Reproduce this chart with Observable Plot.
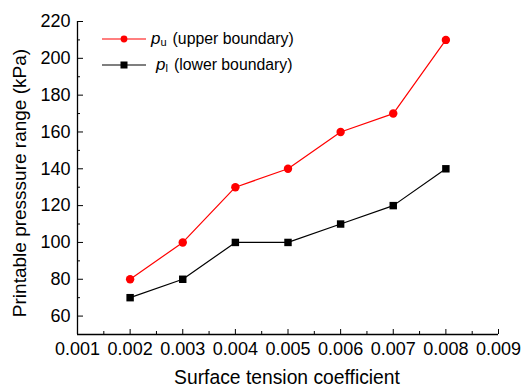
<!DOCTYPE html>
<html>
<head>
<meta charset="utf-8">
<script src="https://cdn.jsdelivr.net/npm/d3@7"></script>
<script src="https://cdn.jsdelivr.net/npm/@observablehq/plot@0.6"></script>
<style>
  html, body { margin: 0; padding: 0; background: #fff; }
  #wrap { position: relative; width: 522px; height: 386px; font-family: "Liberation Sans", Arial, sans-serif; }
  #legend { position: absolute; left: 0; top: 0; }
</style>
</head>
<body>
<div id="wrap"></div>
<script>
const coefficients = [0.002, 0.003, 0.004, 0.005, 0.006, 0.007, 0.008];
const upperValues = [80, 100, 130, 140, 160, 170, 210];
const lowerValues = [70, 80, 100, 100, 110, 120, 140];
const xTicks = [0.001, 0.002, 0.003, 0.004, 0.005, 0.006, 0.007, 0.008, 0.009];
const xMinorTicks = [0.0015, 0.0025, 0.0035, 0.0045, 0.0055, 0.0065, 0.0075, 0.0085];
const yTicks = [60, 80, 100, 120, 140, 160, 180, 200, 220];
const yMinorTicks = [70, 90, 110, 130, 150, 170, 190, 210];
const xLabel = "Surface tension coefficient";
const yLabel = "Printable presssure range (kPa)";

const upper = coefficients.map((x, i) => ({x, y: upperValues[i]}));
const lower = coefficients.map((x, i) => ({x, y: lowerValues[i]}));

const fmt = d => d3.format(".3f")(d);

const chart = Plot.plot({
  width: 522,
  height: 386,
  marginLeft: 77,
  marginRight: 24,
  marginTop: 21,
  marginBottom: 52,
  style: {fontFamily: "Liberation Sans, Arial, sans-serif", fontSize: "18px", color: "#000", background: "#fff"},
  x: {domain: [0.001, 0.009]},
  y: {domain: [50, 220]},
  marks: [
    Plot.axisX({ticks: xTicks, tickSize: 0, tickPadding: 8, tickFormat: fmt, fontSize: 18, label: null}),
    Plot.axisX({ticks: xTicks, tickSize: -5, tickFormat: () => "", label: null}),
    Plot.axisX({ticks: xMinorTicks, tickSize: -3, tickFormat: () => "", label: null}),
    Plot.axisY({ticks: yTicks, tickSize: 0, tickPadding: 7, fontSize: 18, label: null}),
    Plot.axisY({ticks: yTicks, tickSize: -6, tickFormat: () => "", label: null}),
    Plot.axisY({ticks: yMinorTicks, tickSize: -3, tickFormat: () => "", label: null}),
    Plot.ruleY([50], {stroke: "#000", strokeWidth: 1.3}),
    Plot.ruleX([0.001], {stroke: "#000", strokeWidth: 1.3}),
    Plot.line(upper, {x: "x", y: "y", stroke: "#ff0000", strokeWidth: 1.2}),
    Plot.dot(upper, {x: "x", y: "y", r: 4.2, fill: "#ff0000", stroke: "none"}),
    Plot.line(lower, {x: "x", y: "y", stroke: "#000", strokeWidth: 1.2}),
    Plot.dot(lower, {x: "x", y: "y", r: 4.2, symbol: "square", fill: "#000", stroke: "none"}),
    Plot.text([xLabel], {frameAnchor: "bottom", dx: -1, dy: 49, fontSize: 19.3, lineAnchor: "bottom", text: d => d}),
    Plot.text([yLabel], {frameAnchor: "left", textAnchor: "middle", dx: -58, dy: 5, rotate: -90, fontSize: 19, text: d => d})
  ]
});
document.getElementById("wrap").appendChild(chart);

// Legend overlay
const entries = [
  {sub: "u", text: "(upper boundary)", color: "#ff0000", symbol: "circle", y: 39, tx: 151},
  {sub: "l", text: "(lower boundary)", color: "#000", symbol: "square", y: 65, tx: 156}
];
const svg = d3.select("#wrap").append("svg")
  .attr("id", "legend").attr("width", 522).attr("height", 386)
  .style("pointer-events", "none");
const g = svg.selectAll("g").data(entries).join("g");
g.append("line").attr("x1", 102).attr("x2", 146).attr("y1", d => d.y).attr("y2", d => d.y)
  .attr("stroke", d => d.color).attr("stroke-width", 1.2);
g.filter(d => d.symbol === "circle").append("circle").attr("cx", 124).attr("cy", d => d.y).attr("r", 3.4).attr("fill", d => d.color);
g.filter(d => d.symbol === "square").append("rect").attr("x", 124 - 3.5).attr("y", d => d.y - 3.5).attr("width", 7).attr("height", 7).attr("fill", d => d.color);
const t = g.append("text").attr("x", d => d.tx).attr("y", d => d.y + 5)
  .attr("font-family", "Liberation Sans, Arial, sans-serif").attr("font-size", 15.8).attr("fill", "#000");
t.append("tspan").attr("font-style", "italic").attr("font-size", 17).text("p");
t.append("tspan").attr("font-size", 11).attr("dy", 2).text(d => d.sub);
t.append("tspan").attr("dy", -2).attr("dx", 6).text(d => d.text);
</script>
</body>
</html>
